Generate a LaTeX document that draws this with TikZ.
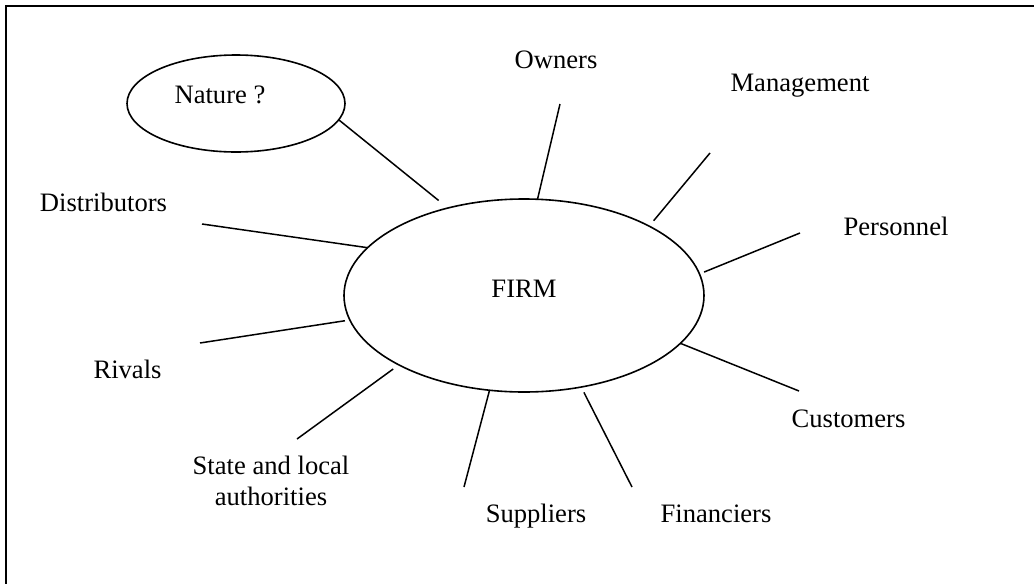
\documentclass[tikz,border=0pt]{standalone}
\usepackage{fontspec}
\setmainfont{Liberation Serif}
\usetikzlibrary{shapes.geometric}
\tikzset{
  oval/.style={ellipse,draw,line width=.8pt,inner sep=0pt,outer sep=0pt},
  party/.style={anchor=base,align=center,inner sep=0pt,font=\fontsize{13.3}{15.5}\selectfont},
  tie/.style={line width=.75pt}
}
\begin{document}
\begin{tikzpicture}[x=.5pt,y=-.5pt]
   \useasboundingbox (0,0) rectangle (1034,584);
   \draw[line width=1pt] (1034,6) -- (6,6) -- (6,584);

   \node[oval,minimum width=180pt,minimum height=96.5pt] (firm) at (524,295.5) {};
   \node[oval,minimum width=109pt,minimum height=48.5pt] (nature) at (236,103.5) {};
   \node[party] (firmText)   at (524,297) {FIRM};
   \node[party] (natureText) at (220,103) {Nature ?};

   \node[party] (owners)       at (556,68)    {Owners};
   \node[party] (management)   at (800,91)    {Management};
   \node[party] (personnel)    at (896,235)   {Personnel};
   \node[party] (distributors) at (103.5,211) {Distributors};
   \node[party] (rivals)       at (127.5,378) {Rivals};
   \node[party] (state)        at (271,505)   {State and local\\authorities};
   \node[party] (suppliers)    at (536,522)   {Suppliers};
   \node[party] (financiers)   at (716,522)   {Financiers};
   \node[party] (customers)    at (848.5,427) {Customers};

   \coordinate (o1) at (560,104);
   \coordinate (m1) at (710,153);
   \coordinate (p1) at (800,233);
   \coordinate (d1) at (202,224);
   \coordinate (r1) at (200,343);
   \coordinate (s1) at (297,439);
   \coordinate (u1) at (464,487);
   \coordinate (f1) at (632,487);
   \coordinate (c1) at (799,391);

   \draw[tie,shorten <=6pt] (firm.131) -- (nature.-9);
   \draw[tie] (o1) -- (firm.82);
   \draw[tie,shorten >=3.5pt] (m1) -- (firm.29);
   \draw[tie,shorten >=2.5pt] (p1) -- (firm.7);
   \draw[tie] (d1) -- (firm.163);
   \draw[tie,shorten >=2.5pt] (r1) -- (firm.188);
   \draw[tie,shorten >=3.5pt] (s1) -- (firm.209);
   \draw[tie] (u1) -- (firm.-110);
   \draw[tie,shorten >=3pt] (f1) -- (firm.-58);
   \draw[tie] (c1) -- (firm.-17);

\end{tikzpicture}
\end{document}
